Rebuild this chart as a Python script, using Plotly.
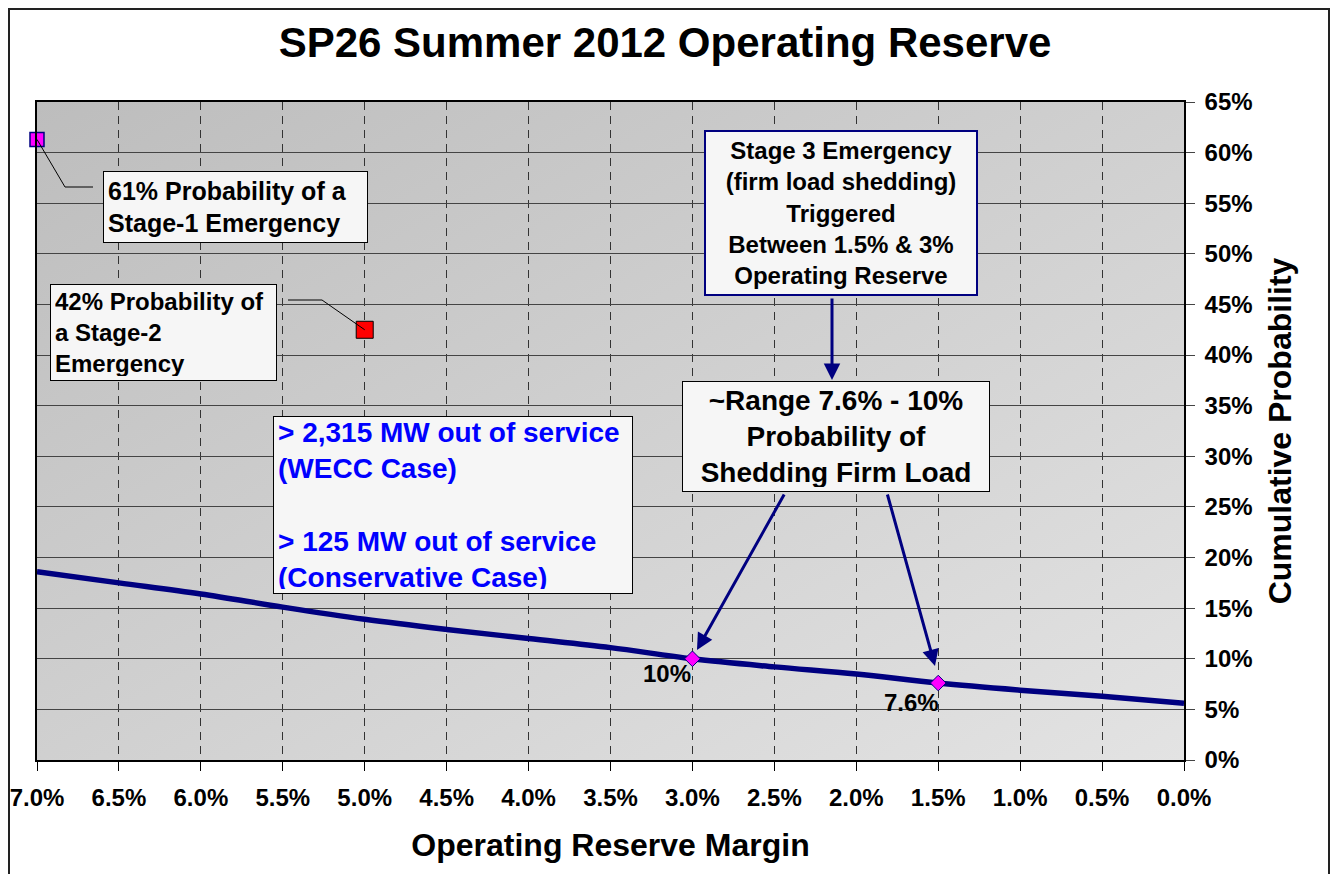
import base64
import plotly.graph_objects as go

# ---------------- data ----------------
margin_pct = [7.0, 6.5, 6.0, 5.5, 5.0, 4.5, 4.0, 3.5, 3.0, 2.5, 2.0, 1.5, 1.0, 0.5, 0.0]
cum_prob = [18.6, 17.5, 16.4, 15.1, 13.9, 12.9, 12.0, 11.1, 10.0, 9.2, 8.5, 7.6, 6.9, 6.3, 5.6]

stage1_x = [7.0]
stage1_y = [61.3]
stage2_x = [5.0]
stage2_y = [42.5]
firm_x = [3.0, 1.5]
firm_y = [10.0, 7.6]
firm_labels = ["10%", "7.6%"]

x_ticks = [7.0, 6.5, 6.0, 5.5, 5.0, 4.5, 4.0, 3.5, 3.0, 2.5, 2.0, 1.5, 1.0, 0.5, 0.0]
x_ticktext = ["7.0%", "6.5%", "6.0%", "5.5%", "5.0%", "4.5%", "4.0%", "3.5%",
              "3.0%", "2.5%", "2.0%", "1.5%", "1.0%", "0.5%", "0.0%"]
y_ticks = [0, 5, 10, 15, 20, 25, 30, 35, 40, 45, 50, 55, 60, 65]
y_ticktext = [f"{v}%" for v in y_ticks]

# ---------------- layout geometry (page pixels) ----------------
OFF = 8  # default page body margin
W, H = 1338 - 2 * OFF, 882 - 2 * OFF   # figure fits the window without scrollbars
PL, PR, PT, PB = 37, 1184, 102, 760      # plot area in page pixels
X_HI, X_LO, Y_LO, Y_HI = 7.0, 0.0, 0.0, 65.0


def dx(px):
    return X_HI - (px - PL) / (PR - PL) * (X_HI - X_LO)


def dy(py):
    return Y_LO + (PB - py) / (PB - PT) * (Y_HI - Y_LO)


def paper_x(px):
    return (px - PL) / (PR - PL)


def paper_y(py):
    return (PB - py) / (PB - PT)


FONT = "Arial, Liberation Sans, sans-serif"
NAVY = "#000080"

fig = go.Figure()

fig.add_trace(go.Scatter(
    x=margin_pct, y=cum_prob, mode="lines", line=dict(color=NAVY, width=5.5, shape="spline"),
    name="Cumulative Probability", showlegend=False, hoverinfo="x+y"))

fig.add_trace(go.Scatter(
    x=stage1_x, y=stage1_y, mode="markers", cliponaxis=False,
    marker=dict(symbol="square", size=14, color="#ff00ff", line=dict(color=NAVY, width=1.5)),
    showlegend=False, name="Stage-1"))

fig.add_trace(go.Scatter(
    x=stage2_x, y=stage2_y, mode="markers", cliponaxis=False,
    marker=dict(symbol="square", size=17, color="#ff0000", line=dict(color="black", width=1)),
    showlegend=False, name="Stage-2"))

fig.add_trace(go.Scatter(
    x=firm_x, y=firm_y, mode="markers", cliponaxis=False,
    marker=dict(symbol="diamond", size=12, color="#ff00ff", line=dict(color=NAVY, width=1)),
    showlegend=False, name="Firm load"))

# gradient background of plot area
svg = ('<svg xmlns="http://www.w3.org/2000/svg" width="100" height="100" preserveAspectRatio="none">'
       '<defs><linearGradient id="g" x1="0" y1="0" x2="1" y2="1">'
       '<stop offset="0" stop-color="#bdbdbd"/><stop offset="1" stop-color="#e3e3e3"/>'
       '</linearGradient></defs><rect width="100" height="100" fill="url(#g)"/></svg>')
src = "data:image/svg+xml;base64," + base64.b64encode(svg.encode()).decode()

annotations = []
shapes = []


def box(px0, py0, px1, py1, text, size, color="black", border="black", bw=1, align="left"):
    pad = 4
    annotations.append(dict(
        x=dx((px0 + px1) / 2), y=dy((py0 + py1) / 2), xref="x", yref="y",
        text=text, showarrow=False, align=align, valign="middle",
        width=(px1 - px0) - 2 * (pad + bw), height=(py1 - py0) - 2 * (pad + bw),
        font=dict(family=FONT, size=size, color=color, weight="bold"),
        bgcolor="#f6f6f6", bordercolor=border, borderwidth=bw, borderpad=pad))


box(103, 171, 368, 243, "61% Probability of a<br>Stage-1 Emergency", 25)
box(50, 284, 277, 381, "42% Probability of<br>a Stage-2<br>Emergency", 24)
box(704, 130, 978, 296,
    "Stage 3 Emergency<br>(firm load shedding)<br>Triggered<br>Between 1.5% &amp; 3%<br>Operating Reserve",
    24, border=NAVY, bw=2, align="center")
box(682, 381, 990, 492, "~Range 7.6% - 10%<br>Probability of<br>Shedding Firm Load", 28, align="center")
box(273, 416, 633, 594,
    "&gt; 2,315 MW out of service<br>(WECC Case)<br> <br>&gt; 125 MW out of service<br>(Conservative Case)",
    28, color="#0000ff")

# connector lines
shapes.append(dict(type="path", xref="x", yref="y",
                   path=f"M {stage1_x[0]} {stage1_y[0]} L {dx(65)} {dy(187)} L {dx(93)} {dy(187)}",
                   line=dict(color="black", width=1)))
shapes.append(dict(type="path", xref="x", yref="y",
                   path=f"M {stage2_x[0]} {stage2_y[0]} L {dx(322)} {dy(300)} L {dx(288)} {dy(300)}",
                   line=dict(color="black", width=1)))


def arrow(hx, hy, tx, ty):
    annotations.append(dict(
        x=dx(hx), y=dy(hy), ax=dx(tx), ay=dy(ty), xref="x", yref="y", axref="x", ayref="y",
        text="", showarrow=True, arrowhead=2, arrowsize=1.1, arrowwidth=3, arrowcolor=NAVY,
        standoff=0, startstandoff=0))


arrow(832, 380, 832, 297)
arrow(697, 650, 785, 493)
arrow(935, 666, 887, 493)

# labels for the firm-load points
annotations.append(dict(x=firm_x[0], y=firm_y[0], xref="x", yref="y", text=firm_labels[0],
                        showarrow=False, xanchor="right", yanchor="top", xshift=1, yshift=1,
                        font=dict(family=FONT, size=24, color="black", weight="bold")))
annotations.append(dict(x=firm_x[1], y=firm_y[1], xref="x", yref="y", text=firm_labels[1],
                        showarrow=False, xanchor="right", yanchor="top", xshift=3, yshift=-4,
                        font=dict(family=FONT, size=24, color="black", weight="bold")))

# outer frame, along the figure edges
shapes.append(dict(type="rect", xref="paper", yref="paper",
                   x0=paper_x(OFF + 1), x1=paper_x(OFF + W - 1), y0=paper_y(900), y1=paper_y(OFF + 1),
                   line=dict(color="#222222", width=2), fillcolor="rgba(0,0,0,0)", layer="below"))

fig.update_layout(
    width=W, height=H, autosize=False,
    margin=dict(l=PL - OFF, r=OFF + W - PR, t=PT - OFF, b=OFF + H - PB, pad=0, autoexpand=False),
    paper_bgcolor="white", plot_bgcolor="rgba(0,0,0,0)",
    font=dict(family=FONT, color="black"),
    title=dict(text="SP26 Summer 2012 Operating Reserve", x=(665 - OFF) / W, xanchor="center",
               y=1 - (42 - OFF) / H, yref="container", yanchor="middle", automargin=False,
               font=dict(family=FONT, size=42, color="black", weight="bold")),
    images=[dict(source=src, xref="paper", yref="paper", x=0, y=1, sizex=1, sizey=1,
                 sizing="stretch", layer="below", xanchor="left", yanchor="top")],
    annotations=annotations, shapes=shapes,
    showlegend=False,
)

fig.update_xaxes(
    range=[X_HI, X_LO], tickvals=x_ticks, ticktext=x_ticktext, automargin=False,
    tickfont=dict(family=FONT, size=24, color="black", weight="bold"),
    ticks="outside", ticklen=9, tickcolor="black", tickwidth=1, ticklabelstandoff=6,
    showgrid=True, gridcolor="#333333", gridwidth=1, griddash="8px,6px",
    showline=True, linecolor="black", linewidth=2, mirror=True, zeroline=False,
    title=dict(text="Operating Reserve Margin", standoff=24,
               font=dict(family=FONT, size=32, color="black", weight="bold")),
)
fig.update_yaxes(
    range=[Y_LO, Y_HI], tickvals=y_ticks, ticktext=y_ticktext, side="right", automargin=False,
    tickfont=dict(family=FONT, size=24, color="black", weight="bold"),
    ticks="outside", ticklen=9, tickcolor="#444444", tickwidth=1, ticklabelstandoff=5,
    showgrid=True, gridcolor="#444444", gridwidth=1,
    showline=True, linecolor="black", linewidth=1.5, mirror=True, zeroline=False,
    title=dict(text="Cumulative Probability", standoff=17,
               font=dict(family=FONT, size=32, color="black", weight="bold")),
)

fig.write_html("out.html")
